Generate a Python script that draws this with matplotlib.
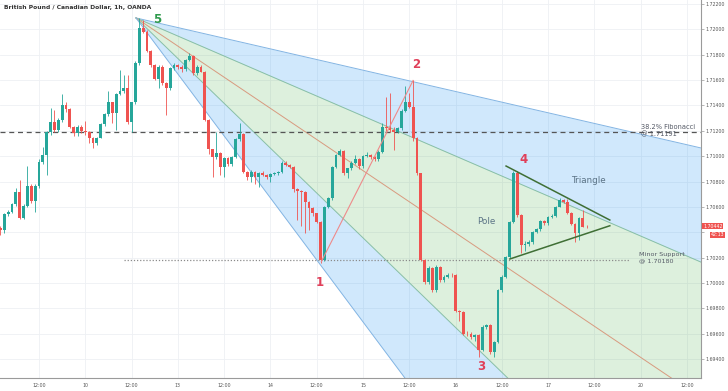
import matplotlib
matplotlib.use('Agg')
import matplotlib.pyplot as plt
import numpy as np

# ---------------- data ----------------
title = "British Pound / Canadian Dollar, 1h, OANDA"

opens = [1.70435,1.70417,1.70540,1.70561,1.70619,1.70719,1.70514,1.70609,1.70766,1.70645,
         1.70766,1.70956,1.71008,1.71187,1.71266,1.71206,1.71285,1.71403,1.71371,1.71232,
         1.71179,1.71232,1.71198,1.71187,1.71145,1.71100,1.71145,1.71250,1.71329,1.71424,
         1.71337,1.71487,1.71513,1.71540,1.71266,1.71424,1.71732,1.72008,1.71982,1.71829,
         1.71718,1.71610,1.71706,1.71574,1.71535,1.71692,1.71719,1.71706,1.71685,1.71758,
         1.71790,1.71653,1.71706,1.71666,1.71285,1.71053,1.70996,1.71022,1.70917,1.70982,
         1.70938,1.70996,1.71132,1.71172,1.70877,1.70832,1.70877,1.70838,1.70869,1.70851,
         1.70838,1.70860,1.70864,1.70877,1.70948,1.70930,1.70917,1.70738,1.70727,1.70719,
         1.70640,1.70588,1.70548,1.70483,1.70180,1.70601,1.70667,1.70916,1.71008,1.71043,
         1.70869,1.70903,1.70948,1.70974,1.70922,1.71001,1.71008,1.70995,1.70974,1.71035,
         1.71232,1.71222,1.71206,1.71193,1.71219,1.71358,1.71429,1.71390,1.71140,1.70864,
         1.70180,1.70009,1.70114,1.69943,1.70127,1.70022,1.70049,1.70062,1.70060,1.69780,
         1.69772,1.69601,1.69596,1.69575,1.69588,1.69470,1.69654,1.69667,1.69457,1.69536,
         1.69943,1.70049,1.70206,1.70482,1.70869,1.70535,1.70298,1.70310,1.70325,1.70404,
         1.70422,1.70490,1.70469,1.70522,1.70527,1.70601,1.70653,1.70640,1.70548,1.70464,
         1.70396,1.70509,1.70443]

closes = [1.70417,1.70540,1.70561,1.70619,1.70719,1.70514,1.70609,1.70766,1.70645,1.70766,
          1.70956,1.71008,1.71187,1.71266,1.71206,1.71285,1.71403,1.71371,1.71232,1.71179,
          1.71232,1.71198,1.71187,1.71145,1.71100,1.71145,1.71250,1.71329,1.71424,1.71337,
          1.71487,1.71513,1.71540,1.71266,1.71424,1.71732,1.72008,1.71982,1.71829,1.71718,
          1.71610,1.71706,1.71574,1.71535,1.71692,1.71719,1.71706,1.71685,1.71758,1.71790,
          1.71653,1.71706,1.71666,1.71285,1.71053,1.70996,1.71022,1.70917,1.70982,1.70938,
          1.70996,1.71132,1.71172,1.70877,1.70832,1.70877,1.70838,1.70869,1.70851,1.70838,
          1.70860,1.70864,1.70877,1.70948,1.70930,1.70917,1.70738,1.70727,1.70719,1.70640,
          1.70588,1.70548,1.70483,1.70180,1.70601,1.70667,1.70916,1.71008,1.71043,1.70869,
          1.70903,1.70948,1.70974,1.70922,1.71001,1.71008,1.70995,1.70974,1.71035,1.71232,
          1.71222,1.71206,1.71193,1.71219,1.71358,1.71429,1.71390,1.71140,1.70864,1.70180,
          1.70009,1.70114,1.69943,1.70127,1.70022,1.70049,1.70062,1.70060,1.69780,1.69772,
          1.69601,1.69596,1.69575,1.69588,1.69470,1.69654,1.69667,1.69457,1.69536,1.69943,
          1.70049,1.70206,1.70482,1.70869,1.70535,1.70298,1.70310,1.70325,1.70404,1.70422,
          1.70490,1.70469,1.70522,1.70527,1.70601,1.70653,1.70640,1.70548,1.70464,1.70396,
          1.70509,1.70443,1.70442]

highs = [1.70450,1.70555,1.70575,1.70630,1.70745,1.70811,1.70625,1.70924,1.70780,1.70780,
         1.70980,1.71074,1.71200,1.71380,1.71363,1.71300,1.71490,1.71430,1.71380,1.71240,
         1.71245,1.71245,1.71279,1.71200,1.71150,1.71150,1.71260,1.71340,1.71513,1.71430,
         1.71500,1.71679,1.71640,1.71640,1.71430,1.71750,1.72090,1.72075,1.71995,1.71840,
         1.71730,1.71715,1.71715,1.71585,1.71700,1.71735,1.71730,1.71720,1.71770,1.71810,
         1.71800,1.71715,1.71720,1.71675,1.71290,1.71060,1.71193,1.71030,1.70990,1.70995,
         1.71005,1.71140,1.71258,1.71180,1.70885,1.70890,1.70885,1.70875,1.70880,1.70860,
         1.70870,1.70875,1.70885,1.70960,1.70960,1.70940,1.70925,1.70745,1.70735,1.70725,
         1.70645,1.70595,1.70555,1.70490,1.70610,1.70680,1.70925,1.71020,1.71060,1.71050,
         1.70910,1.70960,1.71010,1.70985,1.71010,1.71030,1.71020,1.71000,1.71045,1.71260,
         1.71470,1.71500,1.71230,1.71230,1.71370,1.71550,1.71500,1.71597,1.71150,1.70870,
         1.70190,1.70130,1.70125,1.70140,1.70135,1.70060,1.70080,1.70075,1.70070,1.69790,
         1.69780,1.69620,1.69610,1.69600,1.69595,1.69670,1.69680,1.69680,1.69545,1.69950,
         1.70060,1.70215,1.70490,1.70880,1.70880,1.70545,1.70330,1.70340,1.70410,1.70430,
         1.70495,1.70500,1.70530,1.70540,1.70610,1.70670,1.70665,1.70660,1.70560,1.70470,
         1.70520,1.70575,1.70460]

lows = [1.70377,1.70390,1.70530,1.70550,1.70610,1.70503,1.70503,1.70600,1.70630,1.70561,
        1.70750,1.70940,1.70851,1.71170,1.71190,1.71190,1.71270,1.71350,1.71220,1.71160,
        1.71160,1.71180,1.71170,1.71100,1.71061,1.71090,1.71140,1.71240,1.71320,1.71258,
        1.71206,1.71480,1.71500,1.71250,1.71187,1.71410,1.71720,1.71970,1.71820,1.71700,
        1.71600,1.71534,1.71560,1.71324,1.71520,1.71680,1.71690,1.71660,1.71670,1.71750,
        1.71640,1.71640,1.71660,1.71280,1.71020,1.70838,1.70980,1.70850,1.70838,1.70920,
        1.70925,1.70985,1.71120,1.70870,1.70810,1.70800,1.70780,1.70760,1.70840,1.70820,
        1.70800,1.70850,1.70855,1.70870,1.70920,1.70905,1.70720,1.70500,1.70450,1.70390,
        1.70420,1.70530,1.70470,1.70160,1.70170,1.70590,1.70655,1.70905,1.71000,1.70850,
        1.70830,1.70890,1.70940,1.70900,1.70910,1.70990,1.70980,1.70960,1.70965,1.71025,
        1.71200,1.71190,1.71048,1.71180,1.71210,1.71350,1.71380,1.71120,1.70850,1.70170,
        1.69990,1.69990,1.69930,1.69930,1.70010,1.70010,1.70040,1.70050,1.69770,1.69700,
        1.69590,1.69580,1.69560,1.69540,1.69417,1.69460,1.69640,1.69440,1.69417,1.69530,
        1.69930,1.70040,1.70200,1.70470,1.70520,1.70233,1.70250,1.70290,1.70310,1.70395,
        1.70410,1.70460,1.70460,1.70510,1.70520,1.70595,1.70630,1.70540,1.70455,1.70325,
        1.70340,1.70440,1.70430]

# time axis (bar index -> label)
xtick_idx = [10, 22, 34, 46, 58, 70, 82, 94, 106, 118, 130, 142, 154, 166, 178]
xtick_labels = ["12:00", "10", "12:00", "13", "12:00", "14", "12:00", "15",
                "12:00", "16", "12:00", "17", "12:00", "20", "12:00"]
ytick_vals = [1.694, 1.696, 1.698, 1.700, 1.702, 1.704, 1.706, 1.708,
              1.710, 1.712, 1.714, 1.716, 1.718, 1.720, 1.722]

# Fibonacci fan drawing (anchor at wave 5, line prices at reference bar)
fan_anchor_idx = 35.15
fan_anchor_price = 1.72090
fan_ref_idx = 83
fan_ref_prices = [1.71755, 1.71461, 1.71111, 1.70680, 1.70141]

fib_level = 1.71191
support_level = 1.70180
support_start_idx = 32
support_end_idx = 163

wave1_idx, wave1_price = 83.2, 1.70168
wave2_idx, wave2_price = 107.0, 1.71597

tri_upper = ([131.1, 158.0], [1.70922, 1.70496])
tri_lower = ([132.1, 158.0], [1.70189, 1.70451])

wave_labels = [("1", 82.7, 1.70007, '#e0405a'), ("2", 107.7, 1.71721, '#e0405a'),
               ("3", 124.7, 1.69337, '#e0405a'), ("4", 135.6, 1.70974, '#e0405a'),
               ("5", 40.7, 1.72074, '#2e9a4c')]

last_price = 1.70442
countdown = "42:13"

# ---------------- figure ----------------
W, H = 728, 391
fig = plt.figure(figsize=(W / 100, H / 100), dpi=100, facecolor='white')
ax = fig.add_axes([0, 13 / H, 701 / W, 378 / H])
xmin, xmax = -0.11, 181.64
ymin, ymax = 1.692502, 1.722315
ax.set_xlim(xmin, xmax)
ax.set_ylim(ymin, ymax)

# grid
for v in ytick_vals:
    ax.axhline(v, color='#eef0f4', lw=0.6, zorder=0)
for v in xtick_idx:
    ax.axvline(v, color='#eef0f4', lw=0.6, zorder=0)

# fan
kk = np.linspace(fan_anchor_idx, xmax + 2, 400)
fan_lines = [fan_anchor_price + (p - fan_anchor_price) * (kk - fan_anchor_idx) / (fan_ref_idx - fan_anchor_idx)
             for p in fan_ref_prices]
blue_fill = (0.13, 0.59, 0.95, 0.21)
green_fill = (0.30, 0.69, 0.31, 0.19)
ax.fill_between(kk, fan_lines[0], fan_lines[1], color=blue_fill, lw=0, zorder=1)
ax.fill_between(kk, fan_lines[1], fan_lines[3], color=green_fill, lw=0, zorder=1)
ax.fill_between(kk, fan_lines[3], fan_lines[4], color=blue_fill, lw=0, zorder=1)
fan_colors = ['#82b4e3', '#88bfa6', '#d89a7f', '#88bfa6', '#82b4e3']
for ln, c in zip(fan_lines, fan_colors):
    ax.plot(kk, ln, color=c, lw=0.7, zorder=2)

# horizontal levels
ax.axhline(fib_level, color='#555555', lw=0.9, ls=(0, (4, 3)), zorder=2)
ax.plot([support_start_idx, support_end_idx], [support_level, support_level],
        color='#8a8a8a', lw=0.9, ls=(0, (1, 1.5)), zorder=2)

# candles
idx = np.arange(len(opens))
o = np.array(opens); c = np.array(closes); h = np.array(highs); l = np.array(lows)
up = c >= o
col = np.where(up, '#26a69a', '#ef5350')
ax.vlines(idx, l, h, colors=col, lw=0.6, zorder=3)
body_bottom = np.minimum(o, c)
body_h = np.maximum(np.abs(c - o), 0.000015)
ax.bar(idx, body_h, bottom=body_bottom, width=0.72, color=col, lw=0, zorder=4)

# wave 1 -> 2 line
ax.plot([wave1_idx, wave2_idx], [wave1_price, wave2_price], color='#ee8a8a', lw=0.8, zorder=5)

# triangle
ax.plot(*tri_upper, color='#3f6f35', lw=1.1, zorder=5)
ax.plot(*tri_lower, color='#3f6f35', lw=1.1, zorder=5)

# labels
for txt, xi, yp, cc in wave_labels:
    ax.text(xi, yp, txt, color=cc, fontsize=8.5, fontweight='bold', ha='center', va='center', zorder=6)
ax.text(126.0, 1.704845, "Pole", color='#5b7386', fontsize=6.3, ha='center', va='center', zorder=6)
ax.text(152.3, 1.708040, "Triangle", color='#5b7386', fontsize=6.3, ha='center', va='center', zorder=6)
ax.text(166.0, 1.712330, "38.2% Fibonacci", color='#555a66', fontsize=4.8, ha='left', va='center', zorder=6)
ax.text(166.0, 1.711720, "@ 1.71191", color='#555a66', fontsize=4.8, ha='left', va='center', zorder=6)
ax.text(165.6, 1.702242, "Minor Support", color='#555a66', fontsize=4.6, ha='left', va='center', zorder=6)
ax.text(165.6, 1.701760, "@ 1.70180", color='#555a66', fontsize=4.6, ha='left', va='center', zorder=6)

# axes styling
for s in ['top', 'left']:
    ax.spines[s].set_visible(False)
ax.spines['right'].set_color('#9a9a9a')
ax.spines['bottom'].set_color('#9a9a9a')
ax.spines['right'].set_linewidth(0.8)
ax.spines['bottom'].set_linewidth(0.8)
ax.yaxis.tick_right()
ax.set_yticks(ytick_vals)
ax.set_yticklabels([f"{v:.5f}" for v in ytick_vals])
ax.tick_params(axis='y', labelsize=3.4, colors='#9a9a9a', labelcolor='#555555', length=2, width=0.5, pad=1.5)
# the live price tags cover the 1.70400 label, as in the platform
for v, lab in zip(ytick_vals, ax.get_yticklabels()):
    if abs(v - 1.704) < 1e-9:
        lab.set_visible(False)
ax.set_xticks(xtick_idx)
ax.set_xticklabels(xtick_labels)
ax.tick_params(axis='x', labelsize=3.4, labelcolor='#555555', length=0, pad=3.5)

# last price tags
tr = ax.get_yaxis_transform()
ax.text(1.003, 1.704490, f"{last_price:.5f}", transform=tr, fontsize=3.4, color='white',
        ha='left', va='center', bbox=dict(boxstyle='square,pad=0.15', fc='#ef5350', ec='none'), clip_on=False)
ax.text(1.014, 1.703790, countdown, transform=tr, fontsize=3.4, color='white',
        ha='left', va='center', bbox=dict(boxstyle='square,pad=0.15', fc='#ef5350', ec='none'), clip_on=False)

fig.text(4 / W, 1 - 7 / H, title, fontsize=4.3, color='#333333', fontweight='bold', ha='left', va='center')

fig.savefig('out.png', dpi=100, facecolor='white')
